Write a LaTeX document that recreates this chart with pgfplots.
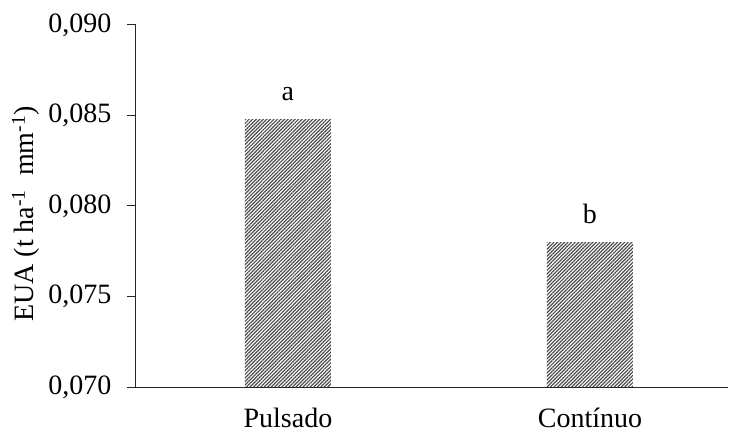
\documentclass[border=0pt]{standalone}
\usepackage{pgfplots}
\pgfplotsset{compat=1.18}
\usepackage{fontspec}
\setmainfont{Liberation Serif}
\usetikzlibrary{patterns.meta}
\newcommand{\bigf}{\fontsize{28bp}{34bp}\selectfont}
\begin{document}
\begin{tikzpicture}
\begin{axis}[
  at={(0,0)}, anchor=south west,
  scale only axis,
  width=592bp, height=362bp,
  xmin=-0.503, xmax=1.457,
  ymin=0.070, ymax=0.090,
  ytick={0.070,0.075,0.080,0.085,0.090},
  scaled y ticks=false,
  yticklabel style={xshift=-12bp, /pgf/number format/.cd, fixed, fixed zerofill, precision=3, use comma, assume math mode=true},
  xtick={0,1},
  xticklabels={Pulsado, Contínuo},
  xticklabel style={anchor=base, yshift=-31bp},
  xtick style={draw=none},
  ytick style={line width=1bp, black!85},
  tick align=outside,
  major tick length=9bp,
  axis x line*=bottom,
  axis y line*=left,
  axis line style={-, line width=1bp, black!85},
  tick label style={font=\bigf},
  label style={font=\bigf},
  ylabel={EUA (t ha\textsuperscript{-1}\ \ mm\textsuperscript{-1})},
  ylabel style={at={([xshift=-110bp]rel axis cs:0,0.478)}, anchor=center},
  ybar, bar width=86bp,
  point meta=explicit symbolic,
  nodes near coords,
  every node near coord/.append style={font=\bigf, anchor=base, yshift=19bp},
]
\addplot[draw=none, pattern={Lines[angle=45,distance=2.5bp,line width=1.2bp]}, pattern color=black!70]
  coordinates {(0,0.0848) [a] (1,0.0780) [b]};
\end{axis}
\pgfresetboundingbox
\path (-136bp,-45bp) rectangle (593bp,387bp);
\end{tikzpicture}
\end{document}
